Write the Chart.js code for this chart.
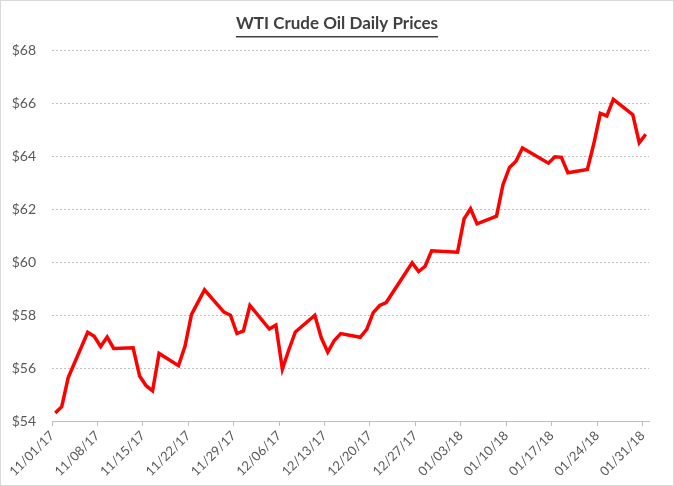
<!DOCTYPE html>
<html>
<head>
<meta charset="utf-8">
<script src="https://cdn.jsdelivr.net/npm/chart.js@4"></script>
<style>
html, body { margin: 0; padding: 0; background: #fff; }
#marco { width: 672px; height: 484px; border: 1px solid #d9d9d9; }
</style>
</head>
<body>
<div id="marco"><canvas id="canvasGrafico" width="672" height="484"></canvas></div>
<script>
// precios de cierre del WTI, nov 2017 - ene 2018
const fechas = [
    '11/01/17', '11/02/17', '11/03/17', '11/06/17', '11/07/17', '11/08/17', '11/09/17', '11/10/17',
    '11/13/17', '11/14/17', '11/15/17', '11/16/17', '11/17/17', '11/20/17', '11/21/17', '11/22/17',
    '11/24/17', '11/27/17', '11/28/17', '11/29/17', '11/30/17', '12/01/17', '12/04/17', '12/05/17',
    '12/06/17', '12/07/17', '12/08/17', '12/11/17', '12/12/17', '12/13/17', '12/14/17', '12/15/17',
    '12/18/17', '12/19/17', '12/20/17', '12/21/17', '12/22/17', '12/26/17', '12/27/17', '12/28/17',
    '12/29/17', '01/02/18', '01/03/18', '01/04/18', '01/05/18', '01/08/18', '01/09/18', '01/10/18',
    '01/11/18', '01/12/18', '01/16/18', '01/17/18', '01/18/18', '01/19/18', '01/22/18', '01/23/18',
    '01/24/18', '01/25/18', '01/26/18', '01/29/18', '01/30/18', '01/31/18'
];
const precios = [
    54.30, 54.54, 55.64, 57.35, 57.20, 56.81, 57.17, 56.74,
    56.76, 55.70, 55.33, 55.14, 56.55, 56.09, 56.83, 58.02,
    58.95, 58.11, 57.99, 57.30, 57.40, 58.36, 57.47, 57.62,
    55.96, 56.69, 57.36, 57.99, 57.14, 56.60, 57.04, 57.30,
    57.16, 57.46, 58.09, 58.36, 58.47, 59.97, 59.64, 59.84,
    60.42, 60.37, 61.63, 62.01, 61.44, 61.73, 62.92, 63.57,
    63.80, 64.30, 63.73, 63.97, 63.95, 63.37, 63.49, 64.47,
    65.61, 65.51, 66.14, 65.56, 64.50, 64.82
];
const etiquetasX = [
    '11/01/17', '11/08/17', '11/15/17', '11/22/17', '11/29/17', '12/06/17', '12/13/17',
    '12/20/17', '12/27/17', '01/03/18', '01/10/18', '01/17/18', '01/24/18', '01/31/18'
];
const valoresY = [54, 56, 58, 60, 62, 64, 66, 68];

const tituloTexto = 'WTI Crude Oil Daily Prices';
const tituloFuente = { family: 'Lato, "Liberation Sans", sans-serif', size: 17, weight: 'bold' };

// dias transcurridos desde la primera fecha
function dia(f) {
    const p = f.split('/');
    const t = Date.UTC(2000 + parseInt(p[2]), parseInt(p[0]) - 1, parseInt(p[1]));
    const p0 = fechas[0].split('/');
    const t0 = Date.UTC(2000 + parseInt(p0[2]), parseInt(p0[0]) - 1, parseInt(p0[1]));
    return Math.round((t - t0) / 86400000);
}

// Chart.js no subraya el titulo, se dibuja aparte
const subrayado = {
    id: 'subrayado',
    afterDraw(chart) {
        const t = chart.titleBlock;
        const ctx = chart.ctx;
        ctx.save();
        ctx.font = tituloFuente.weight + ' ' + tituloFuente.size + 'px ' + tituloFuente.family;
        const w = ctx.measureText(tituloTexto).width;
        const cx = (t.left + t.right) / 2;
        const cy = t.top + 12 + 10.2 + 13.5;
        ctx.strokeStyle = '#404040';
        ctx.lineWidth = 1.6;
        ctx.beginPath();
        ctx.moveTo(cx - w / 2, cy);
        ctx.lineTo(cx + w / 2, cy);
        ctx.stroke();
        ctx.restore();
    }
};

function inicializarGrafico() {
    const ctx = document.getElementById('canvasGrafico').getContext('2d');
    const puntos = fechas.map((f, i) => ({ x: dia(f), y: precios[i] }));
    const ultimo = dia(fechas[fechas.length - 1]);

    new Chart(ctx, {
        type: 'line',
        data: {
            datasets: [{
                label: 'WTI',
                data: puntos,
                borderColor: '#ff0000',
                borderWidth: 3.5,
                pointRadius: 0,
                tension: 0,
                fill: false,
                yAxisID: 'y'
            }]
        },
        options: {
            responsive: false,
            animation: false,
            layout: { padding: 0 },
            scales: {
                x: {
                    type: 'linear',
                    min: -0.5,
                    max: ultimo + 0.5,
                    afterBuildTicks: (scale) => {
                        scale.ticks = etiquetasX.map(f => ({ value: dia(f) - 0.5 }));
                    },
                    afterFit: (scale) => { scale.height = 64; },
                    ticks: {
                        autoSkip: false,
                        minRotation: 45,
                        maxRotation: 45,
                        padding: 2,
                        color: '#595959',
                        font: { family: 'Lato, "Liberation Sans", sans-serif', size: 13 },
                        callback: (v, i) => etiquetasX[i]
                    },
                    grid: { display: true, drawOnChartArea: false, tickLength: 5, color: '#bfbfbf' },
                    border: { display: true, color: '#bfbfbf' }
                },
                y: {
                    min: valoresY[0],
                    max: valoresY[valoresY.length - 1],
                    afterBuildTicks: (scale) => {
                        scale.ticks = valoresY.map(v => ({ value: v }));
                    },
                    afterFit: (scale) => { scale.width = 51; },
                    ticks: {
                        padding: 16,
                        color: '#595959',
                        font: { family: 'Lato, "Liberation Sans", sans-serif', size: 14 },
                        callback: (v) => '$' + v
                    },
                    grid: { color: '#bfbfbf', drawTicks: false },
                    border: { display: false, dash: [2, 2] }
                },
                // margen derecho vacio, para que el titulo quede centrado en todo el ancho
                margen: {
                    position: 'right',
                    afterFit: (scale) => { scale.width = 24; },
                    ticks: { display: false },
                    grid: { display: false },
                    border: { display: false }
                }
            },
            plugins: {
                legend: { display: false },
                tooltip: { enabled: false },
                title: {
                    display: true,
                    text: tituloTexto,
                    color: '#404040',
                    font: tituloFuente,
                    padding: { top: 12, bottom: 16.6 }
                }
            }
        },
        plugins: [subrayado]
    });
}

inicializarGrafico();
</script>
</body>
</html>
